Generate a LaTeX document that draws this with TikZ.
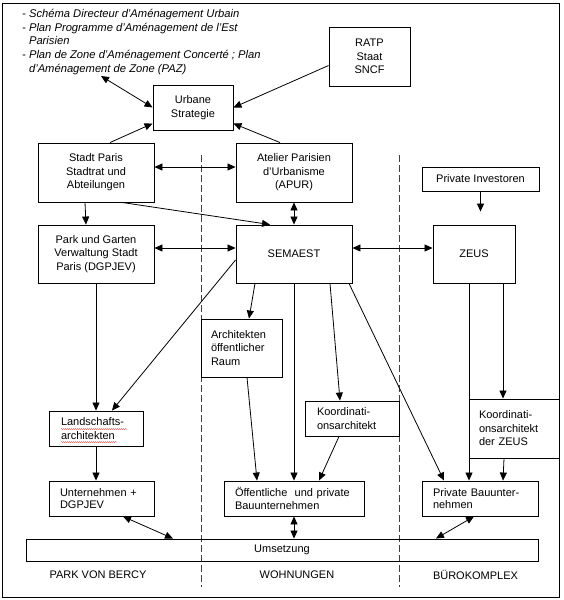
\documentclass[tikz,border=0pt]{standalone}
\usepackage{fontspec}
\setmainfont{Liberation Sans}
\usetikzlibrary{arrows.meta,decorations.pathmorphing}
\begin{document}
\begin{tikzpicture}[x=1pt,y=-1pt,
  font=\fontsize{11}{13.5}\selectfont,
  bx/.style={draw, line width=0.9pt, inner sep=0pt, align=center},
  lbx/.style={draw, line width=0.9pt, inner ysep=0pt, inner xsep=11pt, align=left},
  arr/.style={line width=0.8pt, -{Triangle[length=8pt,width=7pt]}},
  darr/.style={line width=0.8pt, {Triangle[length=8pt,width=7pt]}-{Triangle[length=8pt,width=7pt]}},
  sep/.style={line width=0.8pt, black!75, dash pattern=on 7pt off 3pt},
  lbl/.style={inner sep=0pt},
  squig/.style={red!80, line width=0.35pt, decorate, decoration={snake, amplitude=0.5pt, segment length=2pt}}
]
\useasboundingbox (0,0) rectangle (563,600);
\draw[line width=0.9pt] (2,3) rectangle (559,597);

% separators
\draw[sep] (201,155) -- (201,587);
\draw[sep] (399,155) -- (399,587);

% top text
\node[anchor=north west, align=left, inner sep=0pt,
      font=\itshape\fontsize{11.2}{13.75}\selectfont] (plans) at (22,9)
 {- Schéma Directeur d'Aménagement Urbain\\
  - Plan Programme d'Aménagement de l'Est\\
  \phantom{- }Parisien\\
  - Plan de Zone d'Aménagement Concerté ; Plan\\
  \phantom{- }d'Aménagement de Zone (PAZ)};
\coordinate (plpt) at (101,76);

% boxes
\node[bx, minimum width=80pt, minimum height=45pt] (urb) at (193,107.5) {Urbane\\Strategie};
\node[bx, minimum width=81pt, minimum height=59pt] (ratp) at (369.5,56.5) {RATP\\Staat\\SNCF};
\node[bx, minimum width=116pt, minimum height=59pt] (stadt) at (96,172.5) {Stadt Paris\\Stadtrat und\\Abteilungen};
\node[bx, minimum width=116pt, minimum height=59pt] (apur) at (294,172.5) {Atelier Parisien\\d'Urbanisme\\(APUR)};
\node[bx, minimum width=117pt, minimum height=24pt] (inv) at (480.5,179) {Private Investoren};
\node[bx, minimum width=116pt, minimum height=58pt] (park) at (96,254) {Park und Garten\\Verwaltung Stadt\\Paris (DGPJEV)};
\node[bx, minimum width=116pt, minimum height=58pt] (sem) at (294,254) {SEMAEST};
\node[bx, minimum width=82pt, minimum height=58pt] (zeus) at (474,254) {ZEUS};
\node[lbx, inner xsep=10pt, text width=61pt, minimum height=58pt] (arch) at (241.5,348) {Architekten\\öffentlicher\\Raum};
\node[lbx, inner xsep=12pt, text width=70pt, minimum height=35pt] (land) at (96,428.5) {Landschafts-\\architekten};
\node[lbx, inner xsep=12pt, text width=70pt, minimum height=35pt] (koord) at (352,418.5) {Koordinati-\\onsarchitekt};
\node[lbx, inner xsep=10pt, text width=70pt, minimum height=59pt] (kzeus) at (514,428.5) {Koordinati-\\onsarchitekt\\der ZEUS};
\node[lbx, text width=83pt, minimum height=35pt, font=\fontsize{11}{12.5}\selectfont] (unt) at (101.5,498.5) {Unternehmen +\\DGPJEV};
\node[lbx, text width=118pt, minimum height=35pt, font=\fontsize{11}{12.5}\selectfont] (oeff) at (294,498.5) {Öffentliche\ \ und private\\Bauunternehmen};
\node[lbx, text width=94pt, minimum height=35pt, font=\fontsize{11}{12.5}\selectfont] (pbau) at (480,498.5) {Private Bauunter-\\nehmen};
\node[bx, minimum width=512pt, minimum height=22pt] (ums) at (282,550) {Umsetzung};

% spell-check underline
\draw[squig] ([xshift=-35pt,yshift=-0.5pt]land.center) -- ([xshift=31pt,yshift=-0.5pt]land.center);
\draw[squig] ([xshift=-35pt,yshift=-13.5pt]land.center) -- ([xshift=21pt,yshift=-13.5pt]land.center);

% bottom labels
\node[lbl] (l1) at (98,575) {PARK VON BERCY};
\node[lbl] (l2) at (297,575) {WOHNUNGEN};
\node[lbl] (l3) at (475.5,575) {BÜROKOMPLEX};

% connectors top
\draw[darr] (plpt) -- (urb.west);
\draw[arr] ([xshift=14pt]stadt.north) -- ([yshift=-16pt]urb.west);
\draw[arr] ([xshift=-14pt]apur.north) -- ([yshift=-16pt]urb.east);
\draw[arr] ([yshift=-9pt]ratp.west) -- (urb.east);

% row 1/2
\draw[darr] ([yshift=5.5pt]stadt.east) -- ([yshift=5.5pt]apur.west);
\draw[arr] ([xshift=-11pt]stadt.south) -- ([xshift=-10pt]park.north);
\draw[arr] ([xshift=26pt]stadt.south) -- ([xshift=-24pt]sem.north);
\draw[darr] (apur.south) -- (sem.north);
\draw[darr] ([yshift=6pt]park.east) -- ([yshift=6pt]sem.west);
\draw[darr] ([yshift=6pt]sem.east) -- ([yshift=6pt]zeus.west);
\draw[arr, shorten >=13pt] (inv.south) -- (inv.south |- zeus.north);

% down
\draw[arr] (park.south) -- (land.north);
\draw[arr] ([yshift=-6pt]sem.west) -- ([xshift=16pt]land.north);
\draw[arr] ([xshift=-39pt]sem.south) -- ([xshift=7.5pt]arch.north);
\draw[arr] ([xshift=5.5pt]arch.south) -- ([xshift=-37pt]oeff.north);
\draw[arr] (sem.south) -- (oeff.north);
\draw[arr] ([xshift=36pt]sem.south) -- ([xshift=-12pt]koord.north);
\draw[arr] ([xshift=-13pt]koord.south) -- ([xshift=25pt]oeff.north);
\draw[arr] ([xshift=55pt]sem.south) -- ([xshift=-36pt]pbau.north);
\draw[arr] ([xshift=-5pt]zeus.south) -- ([xshift=-11pt]pbau.north);
\draw[arr] ([xshift=29pt]zeus.south) -- ([xshift=-11pt]kzeus.north);
\draw[arr] ([xshift=-10pt]kzeus.south) -- ([xshift=23pt]pbau.north);
\draw[arr] (land.south) -- ([xshift=-5.5pt]unt.north);

% to Umsetzung
\draw[darr] ([xshift=21.5pt]unt.south) -- ([xshift=-109pt]ums.north);
\draw[darr] (oeff.south) -- ([xshift=12pt]ums.north);
\draw[darr] ([xshift=-6pt]pbau.south) -- ([xshift=154pt]ums.north);
\end{tikzpicture}
\end{document}
